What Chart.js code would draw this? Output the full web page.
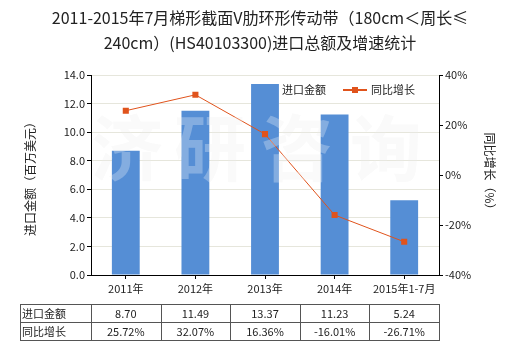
<!DOCTYPE html>
<html>
<head>
<meta charset="utf-8">
<script src="https://cdn.jsdelivr.net/npm/chart.js@4"></script>
<style>
  html, body { margin: 0; padding: 0; background: #fff; }
  #wrap { width: 520px; height: 350px; }
</style>
</head>
<body>
<div id="wrap"><canvas id="c" width="520" height="350"></canvas></div>
<script>
const categories = ["2011年", "2012年", "2013年", "2014年", "2015年1-7月"];
const importValues = [8.70, 11.49, 13.37, 11.23, 5.24];
const growthValues = [25.72, 32.07, 16.36, -16.01, -26.71];
const importLabels = ["8.70", "11.49", "13.37", "11.23", "5.24"];
const growthLabels = ["25.72%", "32.07%", "16.36%", "-16.01%", "-26.71%"];

const FONT = '"Noto Sans CJK SC", "Noto Sans", sans-serif';
const TXT = '#222';
const BAR = '#558ed5';
const LINE = '#e0531c';

function drawMark(ctx, color) {
  ctx.save();
  ctx.fillStyle = color;
  ctx.font = 'bold 72px ' + FONT;
  ctx.textAlign = 'center';
  ctx.textBaseline = 'middle';
  const wm = ['济', '研', '咨', '询'];
  const wx = [127, 210, 297, 386];
  wm.forEach((ch, i) => ctx.fillText(ch, wx[i], 148));
  ctx.restore();
}

// titles, legend, watermark and the data table under the axis
const decor = {
  id: 'decor',
  beforeDatasetsDraw(chart) {
    drawMark(chart.ctx, 'rgba(0,0,0,0.03)');
  },
  afterDatasetsDraw(chart) {
    drawMark(chart.ctx, 'rgba(255,255,255,0.28)');
  },
  afterDraw(chart) {
    const ctx = chart.ctx;
    const area = chart.chartArea;
    const xs = chart.scales.x;
    ctx.save();
    ctx.fillStyle = TXT;
    ctx.textAlign = 'center';
    ctx.textBaseline = 'middle';
    ctx.font = '16px ' + FONT;
    ctx.fillText('2011-2015年7月梯形截面V肋环形传动带（180cm＜周长≤', 260, 18);
    ctx.fillText('240cm）(HS40103300)进口总额及增速统计', 260, 43);

    // axis titles
    ctx.font = '12px ' + FONT;
    ctx.save();
    ctx.translate(30, 176);
    ctx.rotate(-Math.PI / 2);
    ctx.fillText('进口金额（百万美元）', 0, 0);
    ctx.restore();
    ctx.save();
    ctx.translate(490, 174);
    ctx.rotate(Math.PI / 2);
    ctx.fillText('同比增长（%）', 0, 0);
    ctx.restore();

    // legend
    ctx.textAlign = 'left';
    ctx.font = '11px ' + FONT;
    ctx.fillText('进口金额', 282, 90);
    ctx.strokeStyle = LINE;
    ctx.lineWidth = 2;
    ctx.beginPath();
    ctx.moveTo(343, 90);
    ctx.lineTo(367, 90);
    ctx.stroke();
    ctx.fillStyle = LINE;
    ctx.fillRect(352, 87, 6, 6);
    ctx.fillStyle = TXT;
    ctx.fillText('同比增长', 371, 90);

    // table
    const top = 304, mid = 322, bot = 340, left = 20;
    const right = area.right;
    const step = (area.right - area.left) / categories.length;
    ctx.strokeStyle = '#555';
    ctx.lineWidth = 1;
    ctx.beginPath();
    [top, mid, bot].forEach(y => {
      ctx.moveTo(left, y + 0.5);
      ctx.lineTo(right, y + 0.5);
    });
    ctx.moveTo(left + 0.5, top);
    ctx.lineTo(left + 0.5, bot + 1);
    for (let i = 0; i <= categories.length; i++) {
      const x = Math.round(area.left + i * step) + 0.5;
      ctx.moveTo(x, top);
      ctx.lineTo(x, bot + 1);
    }
    ctx.stroke();
    ctx.fillText('进口金额', 22, (top + mid) / 2 + 1);
    ctx.fillText('同比增长', 22, (mid + bot) / 2 + 1);
    ctx.textAlign = 'center';
    categories.forEach((c, i) => {
      const x = xs.getPixelForValue(i);
      ctx.fillText(importLabels[i], x, (top + mid) / 2 + 1);
      ctx.fillText(growthLabels[i], x, (mid + bot) / 2 + 1);
    });
    ctx.restore();
  }
};

new Chart(document.getElementById('c'), {
  type: 'bar',
  data: {
    labels: categories,
    datasets: [
      {
        type: 'line',
        label: '同比增长',
        data: growthValues,
        yAxisID: 'y1',
        borderColor: LINE,
        backgroundColor: LINE,
        borderWidth: 1,
        pointStyle: 'rect',
        pointRadius: 4.3,
        pointBorderWidth: 0,
        tension: 0,
        order: 0
      },
      {
        label: '进口金额',
        data: importValues,
        yAxisID: 'y',
        backgroundColor: BAR,
        barPercentage: 0.4,
        categoryPercentage: 1,
        order: 1
      }
    ]
  },
  options: {
    responsive: false,
    animation: false,
    devicePixelRatio: 1,
    layout: { padding: { top: 75, left: 0, right: 0, bottom: 0 } },
    plugins: {
      legend: { display: false },
      title: { display: false },
      tooltip: { enabled: false }
    },
    scales: {
      x: {
        offset: true,
        grid: { offset: false, drawOnChartArea: false, drawTicks: true, tickLength: 4, tickColor: '#000' },
        border: { color: '#000', width: 1 },
        ticks: { color: TXT, font: { family: FONT, size: 11 }, padding: 3, maxRotation: 0, autoSkip: false },
        afterFit(scale) { scale.height = 75; }
      },
      y: {
        position: 'left',
        min: 0,
        max: 14,
        ticks: {
          stepSize: 2,
          color: TXT,
          font: { family: FONT, size: 11 },
          padding: 2,
          callback: v => v.toFixed(1)
        },
        grid: { color: '#e6e6dc', tickColor: '#000', tickLength: 4 },
        border: { color: '#000', width: 1 },
        afterFit(scale) { scale.width = 91; }
      },
      y1: {
        position: 'right',
        min: -40,
        max: 40,
        ticks: {
          stepSize: 20,
          color: TXT,
          font: { family: FONT, size: 11 },
          padding: 2,
          callback: v => v + '%'
        },
        grid: { drawOnChartArea: false, tickColor: '#000', tickLength: 4 },
        border: { color: '#000', width: 1 },
        afterFit(scale) { scale.width = 81; }
      }
    }
  },
  plugins: [decor]
});
</script>
</body>
</html>
